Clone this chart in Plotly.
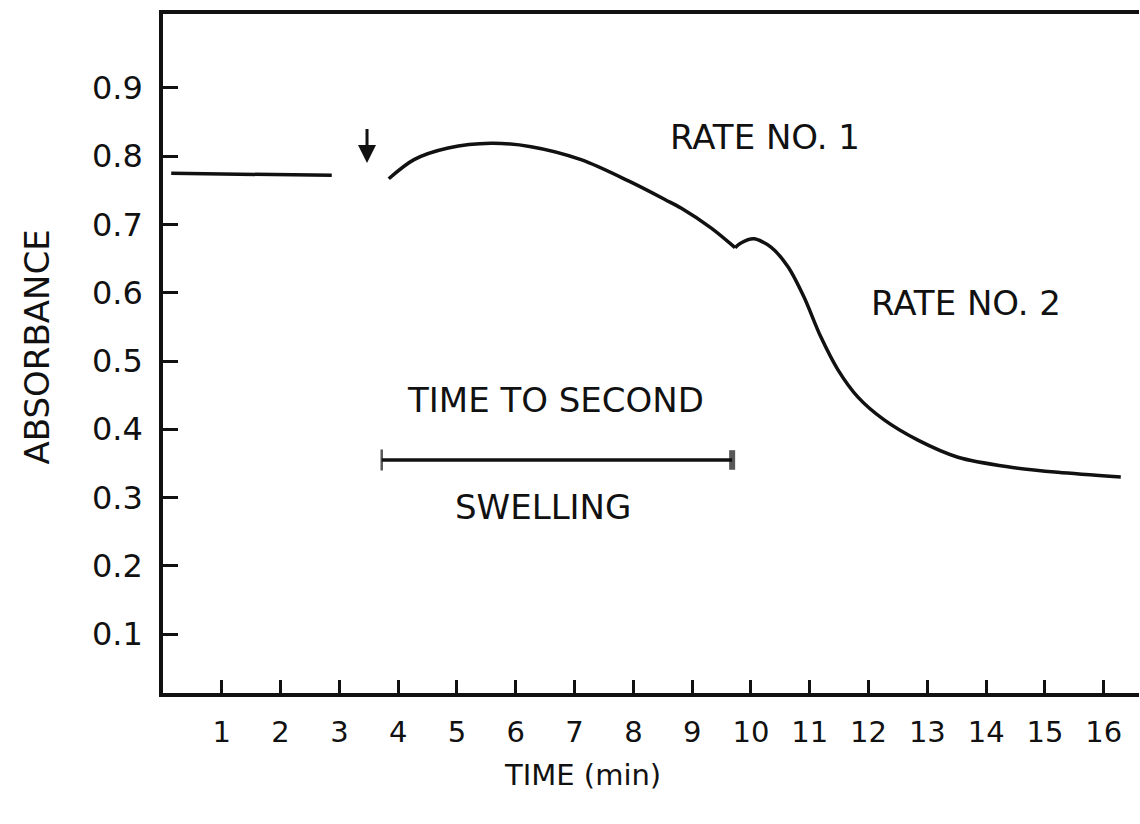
import plotly.graph_objects as go

# ---- data ----
baseline_t = [0.14, 1.0, 2.0, 2.87]
baseline_a = [0.775, 0.774, 0.773, 0.772]

rate1_t = [3.84, 4.27, 4.85, 5.58, 6.26, 7.11, 7.96, 8.55, 8.81, 9.32, 9.73]
rate1_a = [0.767, 0.795, 0.812, 0.819, 0.814, 0.795, 0.762, 0.736, 0.724, 0.695, 0.666]

rate2_t = [9.73, 9.83, 10.05, 10.34, 10.63, 10.90, 11.19, 11.48, 11.82, 12.26,
           12.84, 13.52, 14.37, 15.22, 16.29]
rate2_a = [0.666, 0.673, 0.679, 0.667, 0.638, 0.594, 0.535, 0.487, 0.447, 0.414,
           0.384, 0.359, 0.345, 0.337, 0.330]

addition_t = 3.47            # arrow (addition point)
addition_a = [0.842, 0.790]  # arrow tail, tip

swell_t = [3.72, 9.68]       # time to second swelling
swell_a = [0.355, 0.355]

x_ticks = list(range(1, 17))
y_ticks = [0.1, 0.2, 0.3, 0.4, 0.5, 0.6, 0.7, 0.8, 0.9]
y_tick_text = ["0.1", "0.2", "0.3", "0.4", "0.5", "0.6", "0.7", "0.8", "0.9"]

FONT = "DejaVu Sans"
INK = "#111111"

fig = go.Figure()
fig.add_trace(go.Scatter(x=baseline_t, y=baseline_a, mode="lines",
                         line=dict(color=INK, width=3.5),
                         showlegend=False, hoverinfo="skip"))
fig.add_trace(go.Scatter(x=rate1_t, y=rate1_a, mode="lines",
                         line=dict(color=INK, width=3.5, shape="spline", smoothing=0.9),
                         showlegend=False, hoverinfo="skip"))
fig.add_trace(go.Scatter(x=rate2_t, y=rate2_a, mode="lines",
                         line=dict(color=INK, width=3.5, shape="spline", smoothing=0.8),
                         showlegend=False, hoverinfo="skip"))
fig.add_trace(go.Scatter(x=swell_t, y=swell_a, mode="lines+markers",
                         line=dict(color=INK, width=3.5),
                         marker=dict(symbol="line-ns-open", size=[15, 14],
                                     line=dict(color=INK, width=[2.5, 6])),
                         showlegend=False, hoverinfo="skip"))

ann_font = dict(family=FONT, size=34, color=INK)
fig.add_annotation(x=addition_t, y=addition_a[1], ax=addition_t, ay=addition_a[0],
                   xref="x", yref="y", axref="x", ayref="y", text="", showarrow=True,
                   arrowhead=2, arrowsize=1.2, arrowwidth=3, arrowcolor=INK)
fig.add_annotation(x=10.24, y=0.828, text="RATE NO. 1", showarrow=False, font=ann_font)
fig.add_annotation(x=13.66, y=0.585, text="RATE NO. 2", showarrow=False, font=ann_font)
fig.add_annotation(x=6.67, y=0.443, text="TIME TO SECOND", showarrow=False, font=ann_font)
fig.add_annotation(x=6.46, y=0.286, text="SWELLING", showarrow=False, font=ann_font)

# axis titles
fig.add_annotation(x=7.14, y=0, xref="x", yref="paper", yshift=-82, yanchor="middle",
                   xanchor="center", text="TIME (min)", showarrow=False,
                   font=dict(family=FONT, size=29, color=INK))
fig.add_annotation(x=-0.129, y=0.52, xref="paper", yref="y", xanchor="center",
                   yanchor="middle", text="ABSORBANCE", textangle=-90, showarrow=False,
                   font=dict(family=FONT, size=34, color=INK))

fig.update_xaxes(range=[0.0, 16.6], showline=True, linecolor=INK, linewidth=3.5,
                 mirror=True, ticks="inside", ticklen=13, tickwidth=2.5, tickcolor=INK,
                 tickvals=x_ticks, ticktext=[str(v) for v in x_ticks],
                 tickfont=dict(family=FONT, size=29, color=INK), ticklabelstandoff=10,
                 showgrid=False, zeroline=False)
fig.update_yaxes(range=[0.0136, 1.0084], showline=True, linecolor=INK, linewidth=3.5,
                 mirror=False, ticks="inside", ticklen=15, tickwidth=3, tickcolor=INK,
                 tickvals=y_ticks, ticktext=y_tick_text,
                 tickfont=dict(family=FONT, size=32, color=INK), ticklabelstandoff=10,
                 showgrid=False, zeroline=False)

fig.update_layout(width=1140, height=824, margin=dict(l=163, r=1, t=14, b=131),
                  paper_bgcolor="white", plot_bgcolor="white")

fig.write_html("out.html")
